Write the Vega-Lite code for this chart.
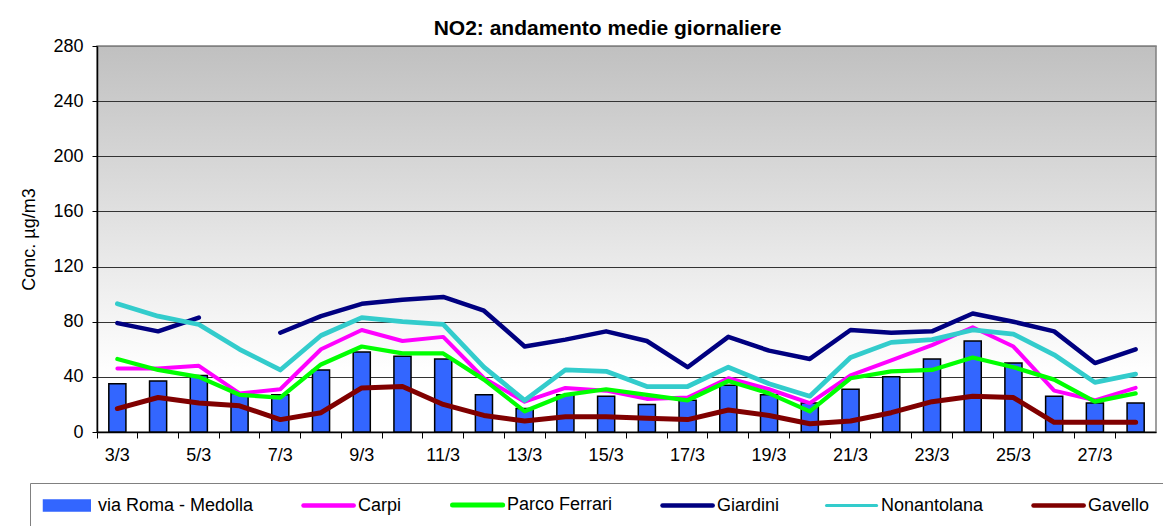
{
  "$schema": "https://vega.github.io/schema/vega-lite/v6.json",
  "width": 1059,
  "height": 386,
  "autosize": {"type": "none"},
  "padding": {"left": 97, "top": 46, "right": 7, "bottom": 94},
  "background": "white",
  "title": {
    "text": "NO2: andamento medie giornaliere",
    "font": "Liberation Sans",
    "fontSize": 21,
    "fontWeight": "bold",
    "color": "black",
    "anchor": "middle",
    "dx": -19,
    "offset": -2
  },
  "config": {
    "font": "Liberation Sans",
    "view": {
      "fill": {"gradient": "linear", "x1": 0, "y1": 0, "x2": 0, "y2": 1,
        "stops": [{"offset": 0, "color": "#c0c0c0"}, {"offset": 0.85, "color": "#ffffff"}]},
      "stroke": "#808080",
      "strokeWidth": 1.5
    }
  },
  "data": {"values": [
    {"day":"3/3","station":"via Roma - Medolla","no2":35},{"day":"4/3","station":"via Roma - Medolla","no2":37},{"day":"5/3","station":"via Roma - Medolla","no2":41},{"day":"6/3","station":"via Roma - Medolla","no2":28},{"day":"7/3","station":"via Roma - Medolla","no2":27},{"day":"8/3","station":"via Roma - Medolla","no2":45},{"day":"9/3","station":"via Roma - Medolla","no2":58},{"day":"10/3","station":"via Roma - Medolla","no2":55},{"day":"11/3","station":"via Roma - Medolla","no2":53},{"day":"12/3","station":"via Roma - Medolla","no2":27},{"day":"13/3","station":"via Roma - Medolla","no2":17},{"day":"14/3","station":"via Roma - Medolla","no2":27},{"day":"15/3","station":"via Roma - Medolla","no2":26},{"day":"16/3","station":"via Roma - Medolla","no2":20},{"day":"17/3","station":"via Roma - Medolla","no2":23},{"day":"18/3","station":"via Roma - Medolla","no2":34},{"day":"19/3","station":"via Roma - Medolla","no2":27},{"day":"20/3","station":"via Roma - Medolla","no2":21},{"day":"21/3","station":"via Roma - Medolla","no2":31},{"day":"22/3","station":"via Roma - Medolla","no2":40},{"day":"23/3","station":"via Roma - Medolla","no2":53},{"day":"24/3","station":"via Roma - Medolla","no2":66},{"day":"25/3","station":"via Roma - Medolla","no2":50},{"day":"26/3","station":"via Roma - Medolla","no2":26},{"day":"27/3","station":"via Roma - Medolla","no2":21},{"day":"28/3","station":"via Roma - Medolla","no2":21},
    {"day":"3/3","station":"Carpi","no2":46},{"day":"4/3","station":"Carpi","no2":46},{"day":"5/3","station":"Carpi","no2":48},{"day":"6/3","station":"Carpi","no2":28},{"day":"7/3","station":"Carpi","no2":31},{"day":"8/3","station":"Carpi","no2":60},{"day":"9/3","station":"Carpi","no2":74},{"day":"10/3","station":"Carpi","no2":66},{"day":"11/3","station":"Carpi","no2":69},{"day":"12/3","station":"Carpi","no2":39},{"day":"13/3","station":"Carpi","no2":22},{"day":"14/3","station":"Carpi","no2":32},{"day":"15/3","station":"Carpi","no2":30},{"day":"16/3","station":"Carpi","no2":24},{"day":"17/3","station":"Carpi","no2":25},{"day":"18/3","station":"Carpi","no2":39},{"day":"19/3","station":"Carpi","no2":31},{"day":"20/3","station":"Carpi","no2":21},{"day":"21/3","station":"Carpi","no2":41},{"day":"22/3","station":"Carpi","no2":52},{"day":"23/3","station":"Carpi","no2":63},{"day":"24/3","station":"Carpi","no2":76},{"day":"25/3","station":"Carpi","no2":62},{"day":"26/3","station":"Carpi","no2":30},{"day":"27/3","station":"Carpi","no2":23},{"day":"28/3","station":"Carpi","no2":32},
    {"day":"3/3","station":"Parco Ferrari","no2":53},{"day":"4/3","station":"Parco Ferrari","no2":45},{"day":"5/3","station":"Parco Ferrari","no2":40},{"day":"6/3","station":"Parco Ferrari","no2":27},{"day":"7/3","station":"Parco Ferrari","no2":25},{"day":"8/3","station":"Parco Ferrari","no2":49},{"day":"9/3","station":"Parco Ferrari","no2":62},{"day":"10/3","station":"Parco Ferrari","no2":57},{"day":"11/3","station":"Parco Ferrari","no2":57},{"day":"12/3","station":"Parco Ferrari","no2":38},{"day":"13/3","station":"Parco Ferrari","no2":15},{"day":"14/3","station":"Parco Ferrari","no2":27},{"day":"15/3","station":"Parco Ferrari","no2":31},{"day":"16/3","station":"Parco Ferrari","no2":27},{"day":"17/3","station":"Parco Ferrari","no2":23},{"day":"18/3","station":"Parco Ferrari","no2":37},{"day":"19/3","station":"Parco Ferrari","no2":28},{"day":"20/3","station":"Parco Ferrari","no2":15},{"day":"21/3","station":"Parco Ferrari","no2":39},{"day":"22/3","station":"Parco Ferrari","no2":44},{"day":"23/3","station":"Parco Ferrari","no2":45},{"day":"24/3","station":"Parco Ferrari","no2":54},{"day":"25/3","station":"Parco Ferrari","no2":47},{"day":"26/3","station":"Parco Ferrari","no2":38},{"day":"27/3","station":"Parco Ferrari","no2":22},{"day":"28/3","station":"Parco Ferrari","no2":28},
    {"day":"3/3","station":"Giardini","no2":79},{"day":"4/3","station":"Giardini","no2":73},{"day":"5/3","station":"Giardini","no2":83},{"day":"6/3","station":"Giardini","no2":null},{"day":"7/3","station":"Giardini","no2":72},{"day":"8/3","station":"Giardini","no2":84},{"day":"9/3","station":"Giardini","no2":93},{"day":"10/3","station":"Giardini","no2":96},{"day":"11/3","station":"Giardini","no2":98},{"day":"12/3","station":"Giardini","no2":88},{"day":"13/3","station":"Giardini","no2":62},{"day":"14/3","station":"Giardini","no2":67},{"day":"15/3","station":"Giardini","no2":73},{"day":"16/3","station":"Giardini","no2":66},{"day":"17/3","station":"Giardini","no2":47},{"day":"18/3","station":"Giardini","no2":69},{"day":"19/3","station":"Giardini","no2":59},{"day":"20/3","station":"Giardini","no2":53},{"day":"21/3","station":"Giardini","no2":74},{"day":"22/3","station":"Giardini","no2":72},{"day":"23/3","station":"Giardini","no2":73},{"day":"24/3","station":"Giardini","no2":86},{"day":"25/3","station":"Giardini","no2":80},{"day":"26/3","station":"Giardini","no2":73},{"day":"27/3","station":"Giardini","no2":50},{"day":"28/3","station":"Giardini","no2":60},
    {"day":"3/3","station":"Nonantolana","no2":93},{"day":"4/3","station":"Nonantolana","no2":84},{"day":"5/3","station":"Nonantolana","no2":78},{"day":"6/3","station":"Nonantolana","no2":60},{"day":"7/3","station":"Nonantolana","no2":45},{"day":"8/3","station":"Nonantolana","no2":70},{"day":"9/3","station":"Nonantolana","no2":83},{"day":"10/3","station":"Nonantolana","no2":80},{"day":"11/3","station":"Nonantolana","no2":78},{"day":"12/3","station":"Nonantolana","no2":47},{"day":"13/3","station":"Nonantolana","no2":23},{"day":"14/3","station":"Nonantolana","no2":45},{"day":"15/3","station":"Nonantolana","no2":44},{"day":"16/3","station":"Nonantolana","no2":33},{"day":"17/3","station":"Nonantolana","no2":33},{"day":"18/3","station":"Nonantolana","no2":47},{"day":"19/3","station":"Nonantolana","no2":35},{"day":"20/3","station":"Nonantolana","no2":26},{"day":"21/3","station":"Nonantolana","no2":54},{"day":"22/3","station":"Nonantolana","no2":65},{"day":"23/3","station":"Nonantolana","no2":67},{"day":"24/3","station":"Nonantolana","no2":74},{"day":"25/3","station":"Nonantolana","no2":71},{"day":"26/3","station":"Nonantolana","no2":56},{"day":"27/3","station":"Nonantolana","no2":36},{"day":"28/3","station":"Nonantolana","no2":42},
    {"day":"3/3","station":"Gavello","no2":17},{"day":"4/3","station":"Gavello","no2":25},{"day":"5/3","station":"Gavello","no2":21},{"day":"6/3","station":"Gavello","no2":19},{"day":"7/3","station":"Gavello","no2":9},{"day":"8/3","station":"Gavello","no2":14},{"day":"9/3","station":"Gavello","no2":32},{"day":"10/3","station":"Gavello","no2":33},{"day":"11/3","station":"Gavello","no2":20},{"day":"12/3","station":"Gavello","no2":12},{"day":"13/3","station":"Gavello","no2":8},{"day":"14/3","station":"Gavello","no2":11},{"day":"15/3","station":"Gavello","no2":11},{"day":"16/3","station":"Gavello","no2":10},{"day":"17/3","station":"Gavello","no2":9},{"day":"18/3","station":"Gavello","no2":16},{"day":"19/3","station":"Gavello","no2":12},{"day":"20/3","station":"Gavello","no2":6},{"day":"21/3","station":"Gavello","no2":8},{"day":"22/3","station":"Gavello","no2":14},{"day":"23/3","station":"Gavello","no2":22},{"day":"24/3","station":"Gavello","no2":26},{"day":"25/3","station":"Gavello","no2":25},{"day":"26/3","station":"Gavello","no2":7},{"day":"27/3","station":"Gavello","no2":7},{"day":"28/3","station":"Gavello","no2":7}
  ]},
  "encoding": {
    "x": {
      "field": "day", "type": "ordinal",
      "scale": {"domain": ["3/3","4/3","5/3","6/3","7/3","8/3","9/3","10/3","11/3","12/3","13/3","14/3","15/3","16/3","17/3","18/3","19/3","20/3","21/3","22/3","23/3","24/3","25/3","26/3","27/3","28/3"], "paddingInner": 0, "paddingOuter": 0},
      "axis": {
        "title": null, "bandPosition": 0, "labelAngle": 0,
        "labelExpr": "parseInt(split(datum.value, '/')[0]) % 2 == 1 ? datum.value : ''",
        "tickSize": 6, "tickColor": "black", "domainColor": "black", "domainWidth": 1.5,
        "labelFontSize": 18, "labelPadding": 8, "labelColor": "black", "labelFont": "Liberation Sans",
        "grid": false
      }
    },
    "y": {
      "field": "no2", "type": "quantitative",
      "scale": {"domain": [0, 280], "nice": false, "zero": true},
      "axis": {
        "title": "Conc. µg/m3", "titleFontSize": 18, "titleFontWeight": "normal", "titleColor": "black", "titleFont": "Liberation Sans", "titlePadding": 14,
        "values": [0, 40, 80, 120, 160, 200, 240, 280],
        "tickSize": 5, "tickColor": "black", "domainColor": "black", "domainWidth": 1.5,
        "labelFontSize": 18, "labelPadding": 9, "labelColor": "black", "labelFont": "Liberation Sans",
        "grid": true,
        "gridColor": {"condition": {"test": "datum.value == 280 || datum.value == 0", "value": "#808080"}, "value": "#333333"},
        "gridWidth": 1.2
      }
    },
    "color": {
      "field": "station", "type": "nominal",
      "scale": {
        "domain": ["via Roma - Medolla", "Carpi", "Parco Ferrari", "Giardini", "Nonantolana", "Gavello"],
        "range": ["#3366FF", "#FF00FF", "#00FF00", "#000080", "#33CCCC", "#800000"]
      },
      "legend": {
        "title": null, "orient": "none", "direction": "horizontal", "columns": 6,
        "legendX": -67, "legendY": 437,
        "padding": 13, "strokeColor": "#808080", "fillColor": "white",
        "columnPadding": 40,
        "symbolSize": 289, "labelOffset": 37,
        "labelFontSize": 18, "labelFont": "Liberation Sans", "labelColor": "black", "labelLimit": 300,
        "encode": {
          "symbols": {"update": {
            "shape": {"signal": "datum.value === 'via Roma - Medolla' ? 'M-1,-0.65H4.5V0.65H-1Z' : 'M-1,0H4.9'"},
            "fill": {"signal": "datum.value === 'via Roma - Medolla' ? '#3366FF' : 'transparent'"},
            "stroke": {"signal": "datum.value === 'via Roma - Medolla' ? '#000000' : scale('color', datum.value)"},
            "strokeWidth": {"signal": "datum.value === 'via Roma - Medolla' ? 1.5 : datum.value === 'Parco Ferrari' ? 5 : datum.value === 'Nonantolana' ? 3 : 4.5"},
            "strokeCap": {"value": "round"},
            "opacity": {"value": 1},
            "fillOpacity": {"value": 1},
            "strokeOpacity": {"value": 1}
          }}
        }
      }
    }
  },
  "layer": [
    {
      "transform": [{"filter": "datum.station === 'via Roma - Medolla'"}],
      "mark": {"type": "bar", "width": {"band": 0.42}, "stroke": "black", "strokeWidth": 1.5}
    },
    {
      "transform": [{"filter": "datum.station !== 'via Roma - Medolla'"}],
      "mark": {"type": "line", "strokeJoin": "round", "strokeCap": "round", "invalid": "break-paths-show-domains"},
      "encoding": {
        "strokeWidth": {
          "field": "station", "type": "nominal",
          "scale": {"domain": ["Carpi", "Parco Ferrari", "Giardini", "Nonantolana", "Gavello"], "range": [4, 5, 4.5, 3, 4.5]},
          "legend": null
        }
      }
    }
  ]
}
